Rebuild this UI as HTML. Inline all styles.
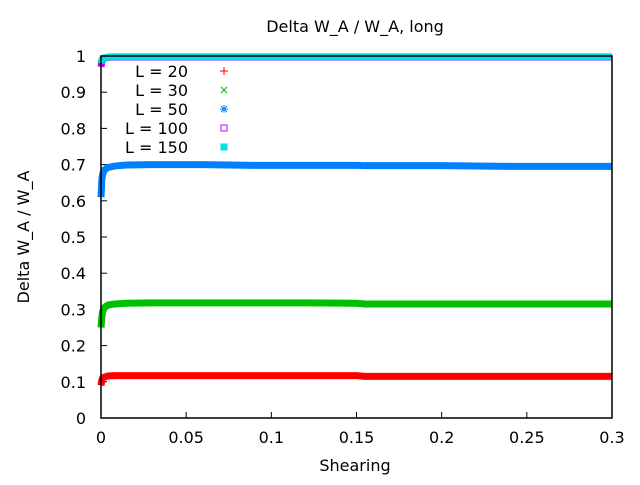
<!DOCTYPE html>
<html><head><meta charset="utf-8"><style>
body{margin:0;background:#fff}
svg text{font-family:"DejaVu Sans",sans-serif;font-size:16px;fill:#000}
</style></head><body>
<svg id="c" width="640" height="480">
<text x="355" y="32" text-anchor="middle">Delta W_A / W_A, long</text>
<text x="355" y="471" text-anchor="middle">Shearing</text>
<text transform="translate(29,237) rotate(-90)" text-anchor="middle">Delta W_A / W_A</text>
<g id="ticks"></g>
<g id="series"></g>
<rect x="101" y="56" width="511" height="362" fill="none" stroke="#000" stroke-width="1.5"/>
<g id="legend"></g>
</svg>
<script>
const xTicks=[0,0.05,0.1,0.15,0.2,0.25,0.3];
const xTickLabels=["0","0.05","0.1","0.15","0.2","0.25","0.3"];
const yTicks=[0,0.1,0.2,0.3,0.4,0.5,0.6,0.7,0.8,0.9,1];
const yTickLabels=["0","0.1","0.2","0.3","0.4","0.5","0.6","0.7","0.8","0.9","1"];
const seriesNames=["L = 20","L = 30","L = 50","L = 100","L = 150"];
const seriesColors=["#ff0000","#00c000","#0080ff","#c000ff","#00e0e0"];
const xs=[0,0.0005,0.001,0.002,0.004,0.008,0.015,0.03,0.06,0.09,0.12,0.15,0.155,0.2,0.245,0.25,0.3];
const l20=[0.09,0.105,0.11,0.113,0.116,0.117,0.117,0.117,0.117,0.117,0.117,0.117,0.115,0.115,0.115,0.115,0.115];
const l30=[0.25,0.28,0.295,0.305,0.312,0.315,0.317,0.318,0.318,0.318,0.318,0.317,0.315,0.315,0.315,0.315,0.315];
const l50=[0.61,0.66,0.675,0.685,0.692,0.696,0.699,0.7,0.7,0.698,0.698,0.698,0.697,0.697,0.695,0.695,0.695];
const l100=[0.97,0.985,0.99,0.994,0.996,0.997,0.997,0.997,0.997,0.997,0.997,0.997,0.997,0.997,0.997,0.997,0.997];
const l150=[0.98,0.99,0.993,0.995,0.997,0.998,0.998,0.998,0.998,0.998,0.998,0.998,0.998,0.998,0.998,0.998,0.998];
const allSeries=[l20,l30,l50,l100,l150];
const NS="http://www.w3.org/2000/svg";
const X=v=>101+v/0.3*511, Y=v=>418-v*362;
const tg=document.getElementById('ticks');
function mk(t,a,p){const e=document.createElementNS(NS,t);for(const k in a)e.setAttribute(k,a[k]);(p||tg).appendChild(e);return e;}
xTicks.forEach((v,i)=>{
 const l=mk('line',{x1:X(v),x2:X(v),y1:418,y2:412,stroke:'#000'});
 
 
 const t=mk('text',{x:X(v),y:443,'text-anchor':'middle'});t.textContent=xTickLabels[i];
 
 
});
yTicks.forEach((v,i)=>{
 const l=mk('line',{x1:101,x2:107,y1:Y(v),y2:Y(v),stroke:'#000'});
 
 
 const t=mk('text',{x:86,y:Y(v)+6,'text-anchor':'end'});t.textContent=yTickLabels[i];
 
 
});
const sg=document.getElementById('series');
allSeries.forEach((s,k)=>{
 const pts=xs.map((x,i)=>X(x)+','+Y(s[i])).join(' ');
 const p=mk('polyline',{points:pts,fill:'none',stroke:seriesColors[k],'stroke-width':7},sg);
 
 
});
const lg=document.getElementById('legend');
seriesNames.forEach((n,k)=>{
 const y=77+k*19;
 const t=mk('text',{x:188,y:y,'text-anchor':'end'},lg);t.textContent=n;
 
 
 const cx=224,cy=y-6,c=seriesColors[k];
 let m;
 if(k==0){m=mk('path',{d:`M${cx-4},${cy}h8M${cx},${cy-4}v8`,stroke:c},lg);}
 else if(k==1){m=mk('path',{d:`M${cx-3},${cy-3}l6,6M${cx-3},${cy+3}l6,-6`,stroke:c},lg);}
 else if(k==2){m=mk('path',{d:`M${cx-4},${cy}h8M${cx},${cy-4}v8M${cx-3},${cy-3}l6,6M${cx-3},${cy+3}l6,-6`,stroke:c},lg);}
 else if(k==3){m=mk('rect',{x:cx-3,y:cy-3,width:6,height:6,fill:'none',stroke:c},lg);}
 else {m=mk('rect',{x:cx-3.5,y:cy-3.5,width:7,height:7,fill:c},lg);}
 
 
});
</script>
</body></html>
